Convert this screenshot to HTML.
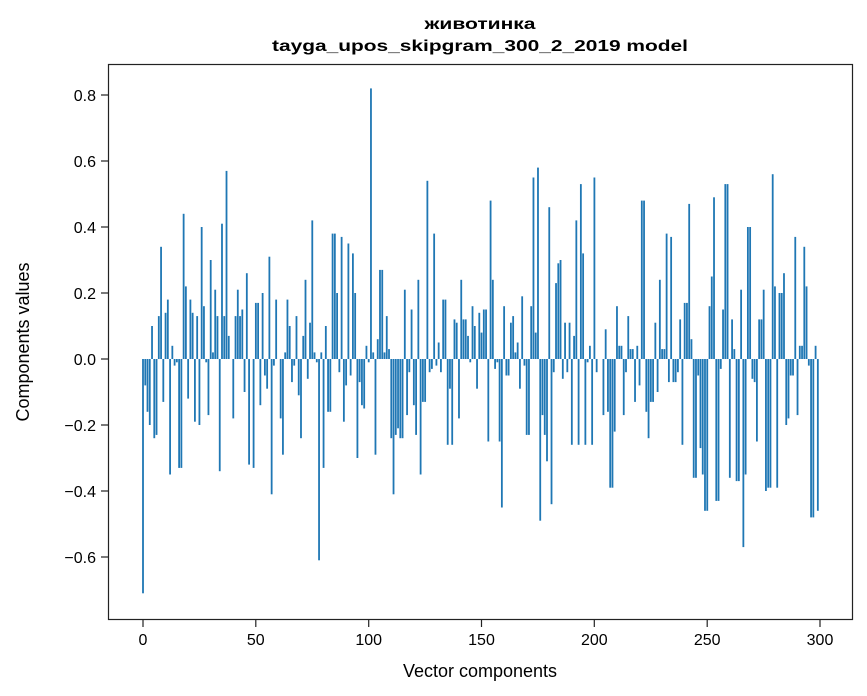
<!DOCTYPE html>
<html><head><meta charset="utf-8"><style>
html,body{margin:0;padding:0;background:#fff;}
svg{display:block;font-family:"Liberation Sans",sans-serif;}
</style></head><body>
<svg id="s" width="867" height="696" xmlns="http://www.w3.org/2000/svg">
<rect width="867" height="696" fill="#fff"/>
<g id="bars" fill="#1f77b4"></g>
<rect x="108.5" y="64.5" width="744" height="555" fill="none" stroke="#222" stroke-width="1.2"/>
<g stroke="#222" stroke-width="1.2">
<line x1="143" y1="620" x2="143" y2="627"/><line x1="255.8" y1="620" x2="255.8" y2="627"/><line x1="368.7" y1="620" x2="368.7" y2="627"/><line x1="481.5" y1="620" x2="481.5" y2="627"/><line x1="594.3" y1="620" x2="594.3" y2="627"/><line x1="707.2" y1="620" x2="707.2" y2="627"/><line x1="820" y1="620" x2="820" y2="627"/>
<line x1="101" y1="95" x2="108" y2="95"/><line x1="101" y1="161" x2="108" y2="161"/><line x1="101" y1="227" x2="108" y2="227"/><line x1="101" y1="293" x2="108" y2="293"/><line x1="101" y1="359" x2="108" y2="359"/><line x1="101" y1="425" x2="108" y2="425"/><line x1="101" y1="491" x2="108" y2="491"/><line x1="101" y1="557" x2="108" y2="557"/>
</g>
<g font-size="16" fill="#000" text-anchor="middle">
<text x="143" y="645">0</text><text x="255.8" y="645">50</text><text x="368.7" y="645">100</text><text x="481.5" y="645">150</text><text x="594.3" y="645">200</text><text x="707.2" y="645">250</text><text x="820" y="645">300</text>
</g>
<g font-size="16" fill="#000" text-anchor="end">
<text x="96" y="101">0.8</text><text x="96" y="167">0.6</text><text x="96" y="233">0.4</text><text x="96" y="299">0.2</text><text x="96" y="365">0.0</text><text x="96" y="431">−0.2</text><text x="96" y="497">−0.4</text><text x="96" y="563">−0.6</text>
</g>
<text x="480" y="677" font-size="18" text-anchor="middle">Vector components</text>
<text transform="translate(29,342) rotate(-90)" font-size="18" text-anchor="middle">Components values</text>
<text x="480" y="29" font-size="16" font-weight="bold" text-anchor="middle" textLength="111" lengthAdjust="spacingAndGlyphs">животинка</text>
<text x="480" y="51" font-size="16" font-weight="bold" text-anchor="middle" textLength="416" lengthAdjust="spacingAndGlyphs">tayga_upos_skipgram_300_2_2019 model</text>
</svg>
<script>
(function(){
var v=[-0.71,-0.08,-0.16,-0.20,0.10,-0.24,-0.23,0.13,0.34,-0.13,0.14,0.18,-0.35,0.04,-0.02,-0.01,-0.33,0.44,0.22,-0.12,0.18,0.14,-0.19,0.13,-0.20,0.40,0.16,-0.01,-0.17,0.30,0.02,0.21,0.13,-0.34,0.41,0.13,0.57,0.07,0.00,-0.18,0.13,0.21,0.13,0.15,-0.10,0.26,-0.32,0.00,-0.33,0.17,-0.14,0.20,-0.05,-0.09,0.31,-0.41,-0.02,0.18,0.00,-0.18,-0.29,0.02,0.18,0.10,-0.07,-0.02,0.13,-0.11,-0.24,0.07,0.24,-0.06,0.11,0.42,0.02,-0.01,-0.61,0.02,-0.33,0.10,-0.16,-0.16,0.38,0.20,-0.04,0.37,-0.19,-0.08,0.35,-0.05,0.32,0.20,-0.30,-0.07,-0.14,-0.15,0.04,-0.01,0.82,0.02,-0.29,0.06,0.27,0.02,0.13,0.03,-0.24,-0.41,-0.23,-0.21,-0.24,0.21,-0.17,-0.04,0.15,-0.14,-0.23,0.24,-0.35,-0.13,0.54,-0.04,-0.03,0.38,-0.02,0.05,-0.04,0.18,-0.26,-0.09,-0.26,0.12,0.11,-0.18,0.24,0.12,0.07,-0.01,0.16,0.10,-0.09,0.14,0.08,0.15,-0.25,0.48,0.24,-0.03,-0.01,-0.25,-0.45,0.16,-0.05,0.11,0.13,0.02,0.05,-0.09,0.19,-0.02,-0.23,0.16,0.55,0.08,0.58,-0.49,-0.17,-0.23,-0.31,0.46,-0.44,-0.04,0.23,0.29,0.30,-0.06,0.11,-0.61,-0.04,0.11,-0.26,0.07,0.42,-0.26,0.53,0.32,-0.26,-0.01,0.04,-0.26,0.55,-0.04,0.00,-0.17,0.09,-0.16,-0.39,-0.22,0.16,0.04,-0.17,-0.04,0.13,0.03,-0.13,0.04,-0.08,0.48,-0.16,-0.24,-0.13,0.11,-0.10,0.24,0.03,0.38,-0.07,0.37,-0.07,-0.04,0.12,-0.26,0.17,0.47,0.06,-0.36,-0.05,-0.27,-0.35,-0.46,0.16,0.25,0.49,-0.43,-0.03,0.15,0.53,-0.36,0.12,0.03,-0.37,0.21,-0.57,-0.35,0.40,-0.06,-0.07,-0.25,0.12,0.21,-0.40,-0.39,0.56,0.22,-0.39,0.20,0.26,-0.20,-0.18,-0.05,0.37,-0.17,0.04,0.34,0.22,-0.02,-0.48,0.04,-0.46];
var A=[[0,0],[98,101],[164,175],[190,200],[268,299]];
function inv(j){for(var k=0;k<A.length-1;k++){var a=A[k],b=A[k+1];if(j<=b[1]){return a[0]+(j-a[1])*(b[0]-a[0])/(b[1]-a[1]);}}return 268;}
var g=document.getElementById('bars');
var NS='http://www.w3.org/2000/svg';
for(var j=0;j<300;j++){
  var m=Math.round(inv(j));if(m>268)m=268;if(m<0)m=0;var val=v[m];
  var x=143+2.257*j-0.9,yv=359-val*330;var top=Math.min(359,yv),ht=Math.abs(yv-359);
  var r=document.createElementNS(NS,'rect');
  r.setAttribute('x',x.toFixed(2));r.setAttribute('y',top.toFixed(2));
  r.setAttribute('width','1.8');r.setAttribute('height',ht.toFixed(2));
  g.appendChild(r);
}
})();
</script>
</body></html>
